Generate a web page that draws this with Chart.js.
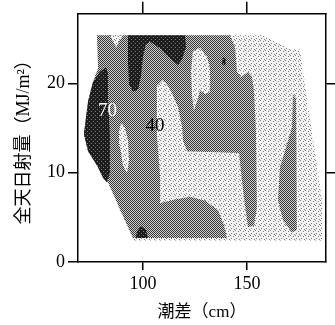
<!DOCTYPE html>
<html>
<head>
<meta charset="utf-8">
<script src="https://cdn.jsdelivr.net/npm/chart.js@4"></script>
<style>
  html, body { margin: 0; padding: 0; background: #fff; }
</style>
</head>
<body>
<canvas id="c" width="335" height="325"></canvas>
<script>
// axis ticks
const xTicks = [100, 150];
const yTicks = [0, 10, 20];

// contour regions, [tidal range cm, radiation MJ/m2] vertices
const domainLow = [
  [77.9, 25.4], [157.7, 25.4], [170.7, 23.8], [175.5, 23.8], [178.8, 18.3],
  [182.7, 12.4], [186.1, 6.9], [186.5, 2.4], [95.2, 2.4], [83.2, 8.9],
  [77.9, 10.8], [73.6, 12.4], [71.6, 14.3], [73.6, 18.0], [76.0, 20.2], [78.4, 21.7]
];
const midMain = [
  [77.9, 25.4], [141.8, 25.4], [144.2, 24.1], [145.2, 21.3], [147.1, 20.7],
  [150.5, 21.3], [152.4, 20.8], [153.4, 19.1], [154.3, 14.7], [154.8, 6.1],
  [153.4, 4.1], [150.5, 3.9], [148.1, 8.0], [146.2, 12.2], [121.2, 12.4],
  [119.2, 13.6], [118.75, 15.2], [116.8, 17.4], [113.0, 19.4], [109.6, 20.4],
  [106.7, 19.7], [106.7, 14.3], [108.2, 9.7], [108.2, 6.6], [115.4, 7.0],
  [122.6, 7.3], [129.8, 6.9], [136.1, 5.8], [139.0, 4.1], [140.4, 2.7],
  [95.2, 2.7], [83.2, 8.9], [77.9, 10.8], [73.6, 12.4], [71.6, 14.3],
  [73.6, 18.0], [76.0, 20.2], [78.4, 21.7]
];
const midRight = [
  [172.1, 18.8], [173.6, 18.3], [174.0, 3.6], [171.6, 3.3], [167.3, 4.7],
  [164.9, 6.9], [165.9, 10.6], [169.2, 13.2], [171.6, 15.0]
];
const lowNotch = [[84.1, 25.4], [90.4, 25.4], [88.5, 24.7], [87.0, 24.0], [85.6, 24.7]];
const lowSlit = [
  [89.4, 15.6], [91.3, 15.1], [92.8, 13.6], [93.3, 11.3], [92.3, 10.0],
  [90.4, 10.8], [88.9, 13.0], [88.5, 14.7]
];
const lowTop = [
  [124.0, 23.6], [127.4, 24.0], [130.8, 23.0], [132.2, 21.7], [132.2, 19.1],
  [130.3, 18.8], [127.4, 19.2], [126.0, 18.0], [124.5, 16.9], [123.6, 18.6], [123.1, 21.3]
];
const highLeft = [
  [79.3, 21.3], [82.2, 21.8], [83.2, 21.1], [83.2, 18.0], [84.1, 14.3],
  [84.1, 10.0], [82.7, 8.9], [80.8, 9.4], [77.9, 10.8], [73.6, 12.4],
  [71.6, 14.3], [73.6, 18.0], [76.0, 20.2]
];
const highTop = [
  [92.8, 25.4], [120.2, 25.4], [120.7, 24.1], [118.75, 22.7], [116.8, 22.1],
  [113.0, 22.8], [108.2, 23.9], [103.4, 24.7], [101.4, 24.4], [100.0, 23.0],
  [99.0, 20.8], [97.6, 19.3], [95.2, 19.1], [93.3, 19.9], [92.8, 22.4]
];
const highDot = [[138.5, 23.0], [139.9, 22.7], [139.5, 22.0], [138.0, 22.2]];
const highBottom = [[99.0, 4.0], [101.4, 3.6], [102.4, 2.7], [96.6, 2.7], [97.1, 3.4]];

// contour labels
const contourLabels = ['70', '40'];
const labelX = [82.9, 105.8];
const labelY = [16.9, 15.2];

// dither textures for the three shades
function makePattern(size, bg, fg, dots) {
  const cv = document.createElement('canvas');
  cv.width = size; cv.height = size;
  const g = cv.getContext('2d');
  g.fillStyle = bg;
  g.fillRect(0, 0, size, size);
  g.fillStyle = fg;
  dots.forEach(d => g.fillRect(d[0], d[1], 1, 1));
  return g.createPattern(cv, 'repeat');
}
const ctx = document.getElementById('c').getContext('2d');
const light = makePattern(5, '#f3f3f3', '#7a7a7a', [[0, 0], [3, 1], [1, 3], [4, 4]]);
const mid = makePattern(2, '#d0d0d0', '#353535', [[0, 0], [1, 1]]);
const dark = makePattern(4, '#1c1c1c', '#7e7e7e', [[1, 1], [3, 3]]);

// bottom layer first
const layers = [
  [domainLow, light], [midMain, mid], [midRight, mid],
  [lowNotch, light], [lowSlit, light], [lowTop, light],
  [highLeft, dark], [highTop, dark], [highDot, dark], [highBottom, dark]
];
const datasets = layers.map((l, i) => ({
  data: l[0].concat([l[0][0]]).map(p => ({ x: p[0], y: p[1] })),
  backgroundColor: l[1],
  borderWidth: 0,
  pointRadius: 0,
  tension: 0,
  fill: 'shape',
  order: layers.length - i,
}));

const serif = '"Liberation Serif", "Noto Sans CJK JP", serif';

const labelPlugin = {
  id: 'contourLabels',
  afterDatasetsDraw(chart) {
    const { ctx, scales: { x, y } } = chart;
    ctx.save();
    ctx.font = '19px ' + serif;
    ctx.textAlign = 'center';
    ctx.textBaseline = 'middle';
    contourLabels.forEach((t, i) => {
      ctx.fillStyle = i === 0 ? '#ffffff' : '#000000';
      ctx.fillText(t, x.getPixelForValue(labelX[i]), y.getPixelForValue(labelY[i]));
    });
    ctx.restore();
  }
};

const setX = s => { s.ticks = xTicks.map(v => ({ value: v })); };
const setY = s => { s.ticks = yTicks.map(v => ({ value: v })); };
const axisLine = { display: true, color: '#000', width: 1.5 };

new Chart(ctx, {
  type: 'line',
  data: { datasets },
  options: {
    responsive: false,
    animation: false,
    layout: { padding: 0 },
    plugins: { legend: { display: false }, tooltip: { enabled: false } },
    scales: {
      x: {
        type: 'linear', position: 'bottom', min: 68.75, max: 188,
        afterBuildTicks: setX,
        afterFit: s => { s.height = 63; },
        ticks: { color: '#000', font: { family: serif, size: 18 }, padding: 3, maxRotation: 0, autoSkip: false },
        grid: { drawOnChartArea: false, drawTicks: true, tickLength: 8, color: '#000', lineWidth: 1.5 },
        border: axisLine,
        title: { display: true, text: '潮差（cm）', color: '#000', font: { family: serif, size: 17 }, padding: { top: 0, bottom: 2 } },
      },
      x2: {
        type: 'linear', position: 'top', min: 68.75, max: 188,
        afterBuildTicks: setX,
        afterFit: s => { s.height = 12; },
        ticks: { display: false },
        grid: { drawOnChartArea: false, drawTicks: true, tickLength: 12, color: '#000', lineWidth: 1.5 },
        border: axisLine,
      },
      y: {
        type: 'linear', position: 'left', min: 0, max: 27.8,
        afterBuildTicks: setY,
        afterFit: s => { s.width = 78; },
        ticks: { color: '#000', font: { family: serif, size: 18 }, padding: 3 },
        grid: { drawOnChartArea: false, drawTicks: true, tickLength: 10, color: '#000', lineWidth: 1.5 },
        border: axisLine,
        title: { display: true, text: '全天日射量（MJ/m²）', color: '#000', font: { family: serif, size: 18 }, padding: { top: 13, bottom: 0 } },
      },
      y2: {
        type: 'linear', position: 'right', min: 0, max: 27.8,
        afterBuildTicks: s => { s.ticks = yTicks.filter(v => v > 0).map(v => ({ value: v })); },
        afterFit: s => { s.width = 9; },
        ticks: { display: false },
        grid: { drawOnChartArea: false, drawTicks: true, tickLength: 9, color: '#000', lineWidth: 1.5 },
        border: axisLine,
      },
    },
  },
  plugins: [labelPlugin],
});
</script>
</body>
</html>
